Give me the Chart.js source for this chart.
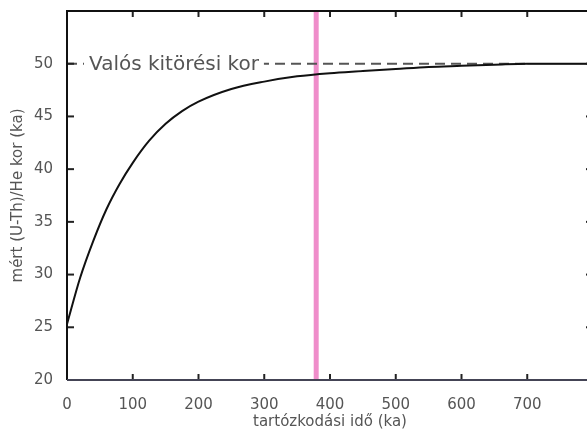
<!DOCTYPE html>
<html>
<head>
<meta charset="utf-8">
<script src="https://cdn.jsdelivr.net/npm/chart.js@4.4.0/dist/chart.umd.min.js"></script>
<style>
html,body{margin:0;padding:0;background:#fff;overflow:hidden;}
#wrap{width:595px;height:435px;}
</style>
</head>
<body>
<div id="wrap"><canvas id="chart" width="595" height="435"></canvas></div>
<script>
var residence=[0,20,40,60,80,100,125,150,175,200,250,300,350,400,450,500,550,600,650,700,800];
var measuredAge=[25.3,29.7,33.2,36.2,38.6,40.6,42.7,44.3,45.5,46.4,47.6,48.3,48.8,49.1,49.3,49.5,49.7,49.8,49.9,50,50];
var trueAge=50;
var trueAgeEnd=700;
var eruptionMark=379;
var xTicks=[0,100,200,300,400,500,600,700];
var yTicks=[20,25,30,35,40,45,50];
var trueAgeLabel='Valós kitörési kor';
var xTitle='tartózkodási idő (ka)';
var yTitle='mért (U-Th)/He kor (ka)';

var curve=residence.map(function(x,i){return {x:x,y:measuredAge[i]};});
var fontFam='"DejaVu Sans", Verdana, sans-serif';

// frame with ticks pointing inwards, like the original plot
var framePlugin={
  id:'frame',
  afterDatasetsDraw:function(chart){
    var ctx=chart.ctx, a=chart.chartArea, xs=chart.scales.x, ys=chart.scales.y;
    ctx.save();
    // label for the true age line
    var yl=ys.getPixelForValue(trueAge);
    ctx.font='20px '+fontFam;
    var w=ctx.measureText(trueAgeLabel).width;
    ctx.fillStyle='#fff';
    ctx.fillRect(84,yl-12,w+10,24);
    ctx.fillStyle='#555';
    ctx.textBaseline='middle';
    ctx.fillText(trueAgeLabel,89,yl+1);
    // ticks
    ctx.strokeStyle='#222';
    ctx.lineWidth=2;
    xTicks.forEach(function(v){
      if(v===0) return;
      var px=xs.getPixelForValue(v);
      ctx.beginPath();ctx.moveTo(px,a.bottom);ctx.lineTo(px,a.bottom-6);ctx.stroke();
      ctx.beginPath();ctx.moveTo(px,a.top);ctx.lineTo(px,a.top+6);ctx.stroke();
    });
    yTicks.forEach(function(v){
      if(v===20) return;
      var py=ys.getPixelForValue(v);
      ctx.beginPath();ctx.moveTo(a.left,py);ctx.lineTo(a.left+7,py);ctx.stroke();
      ctx.beginPath();ctx.moveTo(a.right,py);ctx.lineTo(a.right-7,py);ctx.stroke();
    });
    // border
    ctx.strokeStyle='#111';
    ctx.beginPath();
    ctx.moveTo(a.left,a.bottom);ctx.lineTo(a.left,a.top);ctx.lineTo(a.right,a.top);ctx.lineTo(a.right,a.bottom);
    ctx.stroke();
    ctx.strokeStyle='#445';
    ctx.beginPath();ctx.moveTo(a.left,a.bottom);ctx.lineTo(a.right,a.bottom);ctx.stroke();
    ctx.restore();
  }
};

new Chart(document.getElementById('chart'),{
  type:'line',
  data:{
    datasets:[
      {
        data:[{x:0,y:trueAge},{x:trueAgeEnd,y:trueAge}],
        borderColor:'#555',
        borderWidth:2,
        borderDash:[10,6],
        pointRadius:0,
        order:2
      },
      {
        data:[{x:trueAgeEnd,y:trueAge},{x:800,y:trueAge}],
        borderColor:'#777',
        borderWidth:1.5,
        pointRadius:0,
        order:2
      },
      {
        data:[{x:eruptionMark,y:20},{x:eruptionMark,y:55}],
        borderColor:'#ef8dca',
        borderWidth:5,
        pointRadius:0,
        order:3
      },
      {
        data:curve,
        borderColor:'#111',
        borderWidth:2,
        pointRadius:0,
        cubicInterpolationMode:'monotone',
        order:1
      }
    ]
  },
  options:{
    responsive:false,
    animation:false,
    layout:{padding:{top:11,right:2,left:9,bottom:0}},
    plugins:{legend:{display:false},tooltip:{enabled:false}},
    scales:{
      x:{
        type:'linear',
        min:0,max:800,
        afterFit:function(s){s.height=55;s.paddingLeft=0;s.paddingRight=0;},
        afterBuildTicks:function(s){s.ticks=xTicks.map(function(v){return {value:v};});},
        grid:{display:false},
        border:{display:false},
        ticks:{color:'#555',padding:8,font:{size:15,family:fontFam},maxRotation:0},
        title:{display:true,text:xTitle,color:'#555',padding:{top:0,bottom:4},font:{size:15,family:fontFam}}
      },
      y:{
        type:'linear',
        min:20,max:55,
        afterFit:function(s){s.width=58;s.paddingTop=0;s.paddingBottom=0;},
        afterBuildTicks:function(s){s.ticks=yTicks.map(function(v){return {value:v};});},
        grid:{display:false},
        border:{display:false},
        ticks:{color:'#555',padding:6,font:{size:15,family:fontFam}},
        title:{display:true,text:yTitle,color:'#555',padding:{top:0,bottom:2},font:{size:15,family:fontFam}}
      }
    }
  },
  plugins:[framePlugin]
});
</script>
</body>
</html>
